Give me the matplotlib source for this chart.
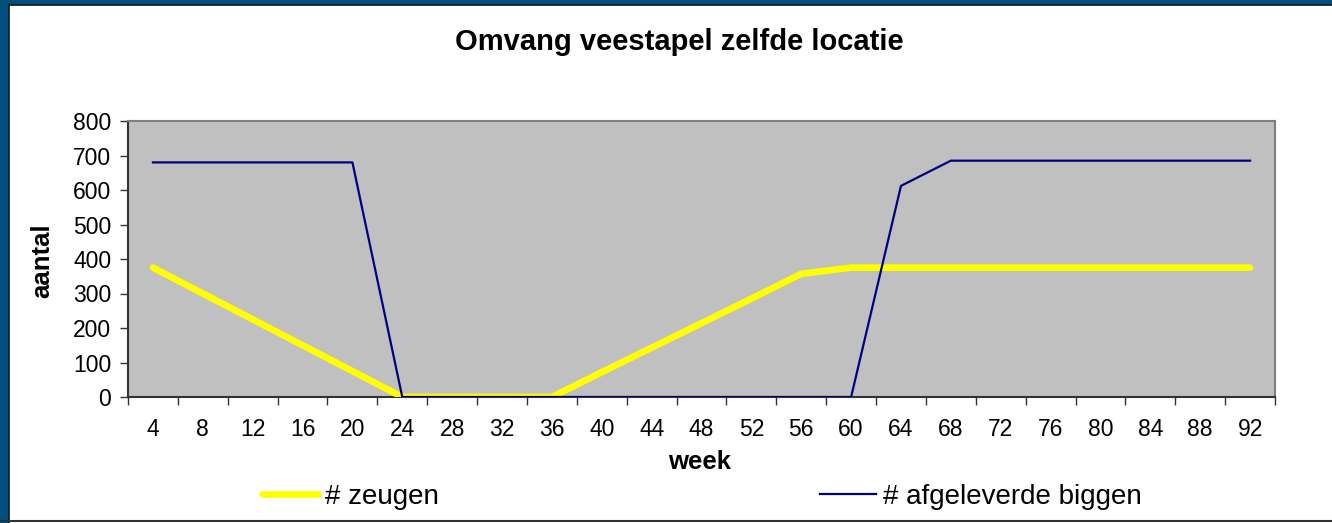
import matplotlib
matplotlib.use("Agg")
import matplotlib.pyplot as plt
from matplotlib.patches import Rectangle
from matplotlib.lines import Line2D

plt.rcParams['font.family'] = ['Liberation Sans', 'DejaVu Sans']

weeks = [4, 8, 12, 16, 20, 24, 28, 32, 36, 40, 44, 48, 52, 56, 60, 64, 68, 72, 76, 80, 84, 88, 92]
zeugen = [375, 300, 225, 150, 75, 0, 0, 0, 0, 72, 143, 214, 285, 357, 375, 375, 375, 375, 375, 375, 375, 375, 375]
biggen = [680, 680, 680, 680, 680, 0, 0, 0, 0, 0, 0, 0, 0, 0, 0, 612, 685, 685, 685, 685, 685, 685, 685]
y_ticks = [0, 100, 200, 300, 400, 500, 600, 700, 800]

W, H = 1332, 523
fig = plt.figure(figsize=(W / 100, H / 100), dpi=100)
fig.patch.set_facecolor('white')

# frame
blue = '#004F7E'
fig.add_artist(Rectangle((0, 0), 8 / W, 1, transform=fig.transFigure, color=blue, zorder=0))
fig.add_artist(Rectangle((0, 1 - 4 / H), 1, 4 / H, transform=fig.transFigure, color=blue, zorder=0))
fig.add_artist(Line2D([8.5 / W, 8.5 / W], [0, 1 - 4 / H], transform=fig.transFigure, color='#1a1a1a', lw=1.2))
fig.add_artist(Line2D([8.5 / W, 1], [1 - 4.5 / H, 1 - 4.5 / H], transform=fig.transFigure, color='#1a1a1a', lw=1.2))
fig.add_artist(Line2D([0, 1], [2.5 / H, 2.5 / H], transform=fig.transFigure, color='#333333', lw=1.5))

left, right, top, bottom = 128, 1275, 121, 397
ax = fig.add_axes([left / W, (H - bottom) / H, (right - left) / W, (bottom - top) / H])
ax.set_facecolor('#C0C0C0')

x = list(range(len(weeks)))
ax.plot(x, zeugen, color='#FFFF00', lw=4.8, solid_capstyle='round', solid_joinstyle='round', label='# zeugen', zorder=3)
ax.plot(x, biggen, color='#000080', lw=1.6, label='# afgeleverde biggen', zorder=4)

ax.set_xlim(-0.5, len(weeks) - 0.5)
ax.set_ylim(0, 800)
ax.set_yticks(y_ticks)
ax.set_yticklabels([str(v) for v in y_ticks], fontsize=16.5)
ax.set_xticks(x)
ax.set_xticklabels([str(w) for w in weeks], fontsize=16.5)
ax.set_xticks([i - 0.5 for i in range(len(weeks) + 1)], minor=True)
ax.tick_params(axis='x', which='major', length=0, pad=15)
ax.tick_params(axis='x', which='minor', length=6, width=1, color='#333333')
ax.tick_params(axis='y', length=6, width=1, color='#333333', pad=6)

for s in ['top', 'right']:
    ax.spines[s].set_color('#808080')
    ax.spines[s].set_linewidth(1.5)
for s in ['left', 'bottom']:
    ax.spines[s].set_color('#333333')
    ax.spines[s].set_linewidth(1.5)

fig.text(679 / W, 1 - 42 / H, 'Omvang veestapel zelfde locatie', ha='center', va='center',
         fontsize=21, fontweight='bold')
fig.text(700 / W, 1 - 462 / H, 'week', ha='center', va='center', fontsize=18.5, fontweight='bold')
fig.text(42 / W, 1 - 261 / H, 'aantal', ha='center', va='center', fontsize=18.5, fontweight='bold', rotation=90)

h1, h2 = ax.get_lines()
fs = 20
leg1 = fig.legend([h1], ['# zeugen'], loc='center left', bbox_to_anchor=(262 / W, 1 - 497 / H),
                  frameon=False, fontsize=fs, handlelength=56 / (fs * 100 / 72), handletextpad=0.25,
                  borderpad=0, borderaxespad=0)
leg2 = fig.legend([h2], ['# afgeleverde biggen'], loc='center left', bbox_to_anchor=(820 / W, 1 - 497 / H),
                  frameon=False, fontsize=fs, handlelength=56 / (fs * 100 / 72), handletextpad=0.25,
                  borderpad=0, borderaxespad=0)

fig.savefig('out.png', dpi=100)
